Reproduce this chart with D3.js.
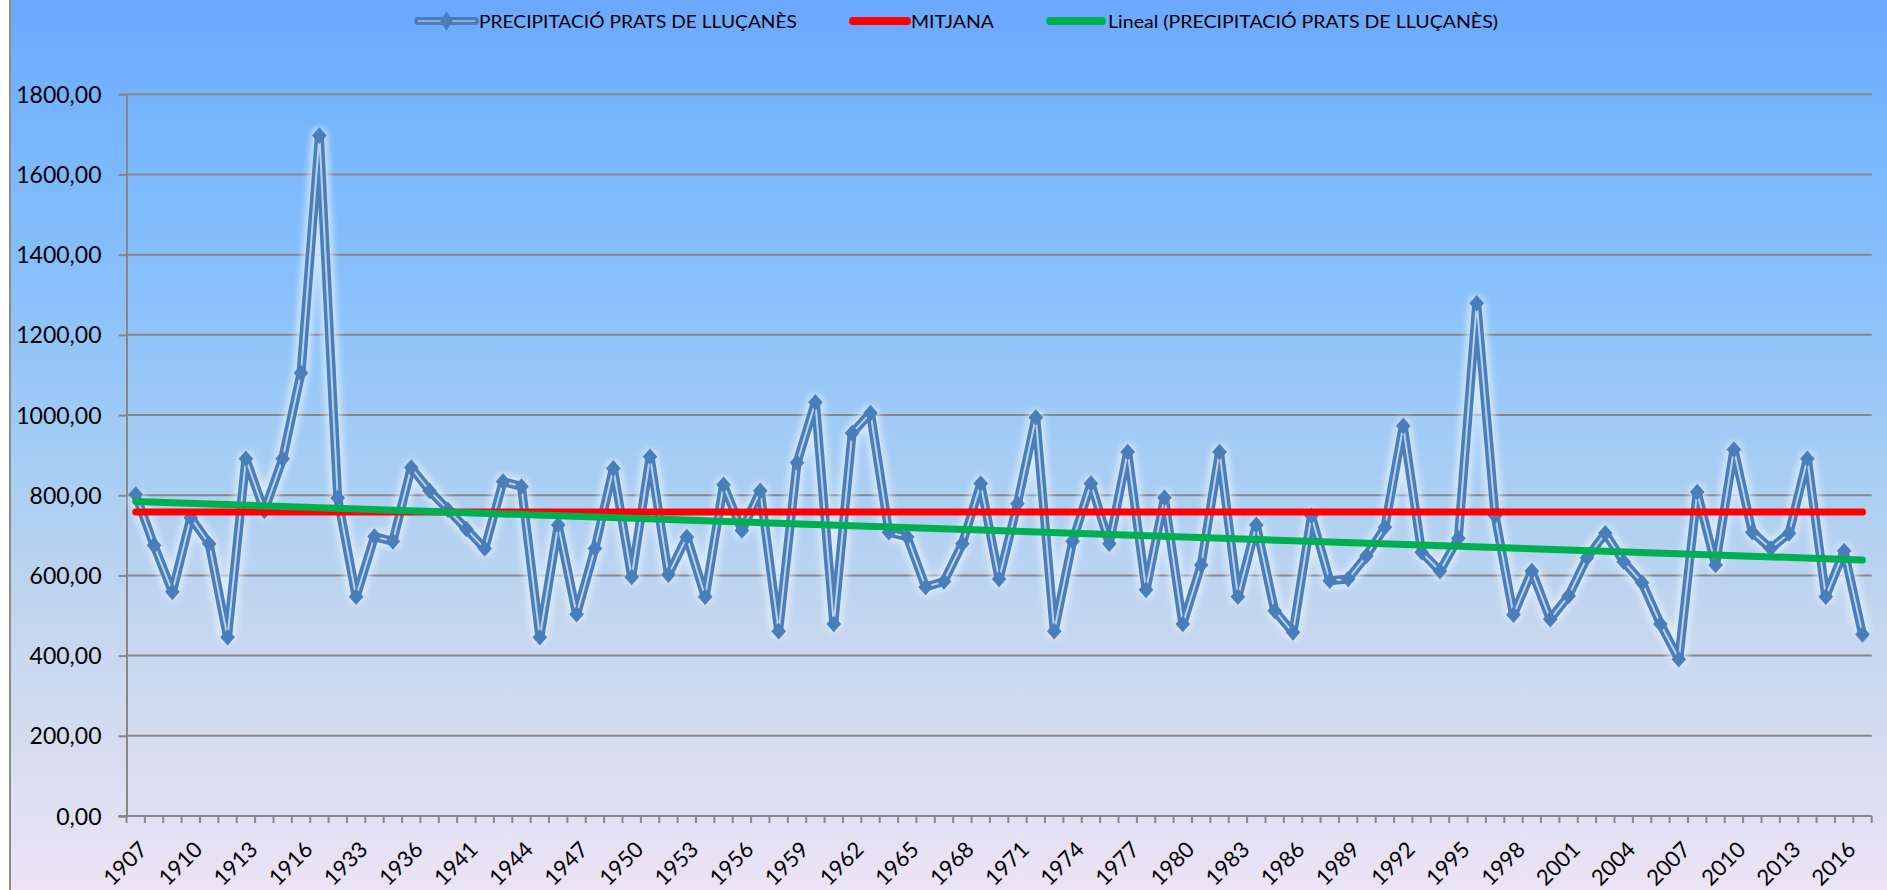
<!DOCTYPE html>
<html>
<head>
<meta charset="utf-8">
<script src="https://cdn.jsdelivr.net/npm/d3@7"></script>
<style>
  html, body { margin: 0; padding: 0; background: #ffffff; }
  svg { display: block; font-family: Lato, "Open Sans", sans-serif; }
</style>
</head>
<body>
<svg id="chart" width="1887" height="890"></svg>
<script>
// ---------------- DATA ----------------
const years = [
  "1907","1908","1909","1910","1911","1912","1913","1914","1915","1916",
  "1917","1918","1933","1934","1935","1936","1939","1940","1941","1942",
  "1943","1944","1945","1946","1947","1948","1949","1950","1951","1952",
  "1953","1954","1955","1956","1957","1958","1959","1960","1961","1962",
  "1963","1964","1965","1966","1967","1968","1969","1970","1971","1972",
  "1973","1974","1975","1976","1977","1978","1979","1980","1981","1982",
  "1983","1984","1985","1986","1987","1988","1989","1990","1991","1992",
  "1993","1994","1995","1996","1997","1998","1999","2000","2001","2002",
  "2003","2004","2005","2006","2007","2008","2009","2010","2011","2012",
  "2013","2014","2015","2016","2017"
];
const precipitacio = [
  802, 675, 559, 744, 679, 446, 891, 761, 891, 1105,
  1697, 793, 547, 697, 685, 869, 811, 764, 716, 667,
  834, 822, 446, 726, 503, 667, 867, 596, 896, 602,
  696, 547, 826, 712, 811, 461, 881, 1032, 479, 955,
  1005, 708, 696, 571, 585, 679, 829, 591, 779, 994,
  461, 685, 829, 679, 908, 564, 794, 479, 626, 908,
  547, 726, 512, 458, 749, 587, 591, 649, 720, 973,
  658, 611, 693, 1279, 749, 502, 611, 491, 549, 644,
  705, 634, 582, 479, 391, 808, 626, 914, 708, 667,
  705, 891, 547, 661, 453
];
const mitjanaValue = 758;
const yTickValues = [0, 200, 400, 600, 800, 1000, 1200, 1400, 1600, 1800];
const labelYears = ["1907","1910","1913","1916","1933","1936","1941","1944","1947","1950",
  "1953","1956","1959","1962","1965","1968","1971","1974","1977","1980","1983","1986",
  "1989","1992","1995","1998","2001","2004","2007","2010","2013","2016"];
const legendNames = ["PRECIPITACIÓ PRATS DE LLUÇANÈS", "MITJANA", "Lineal (PRECIPITACIÓ PRATS DE LLUÇANÈS)"];

// ---------------- SETUP ----------------
const W = 1887, H = 890;
const svg = d3.select("#chart");
const defs = svg.append("defs");

const grad = defs.append("linearGradient").attr("id", "bg").attr("x1", 0).attr("y1", 0).attr("x2", 0).attr("y2", 1);
[["0%", "#6ba8fe"], ["12%", "#76b4fd"], ["30%", "#86bffb"], ["50%", "#a3ccf4"], ["70%", "#c4d6ef"], ["88%", "#dcdef1"], ["100%", "#ece4f5"]]
  .forEach(([o, c]) => grad.append("stop").attr("offset", o).attr("stop-color", c));

const glow = defs.append("filter").attr("id", "glow").attr("x", "-5%").attr("y", "-10%").attr("width", "110%").attr("height", "120%");
glow.append("feGaussianBlur").attr("stdDeviation", 3);

svg.append("rect").attr("x", 10).attr("y", 0).attr("width", W - 10).attr("height", H).attr("fill", "url(#bg)");
svg.append("line").attr("x1", 10).attr("x2", 10).attr("y1", 0).attr("y2", H).attr("stroke", "#8c8c8c").attr("stroke-width", 2);

const plot = { left: 126.5, right: 1871.7, top: 94.3, bottom: 816 };

const x = d3.scaleBand().domain(years).range([plot.left, plot.right]).padding(0);
const cx = d => x(d) + x.bandwidth() / 2;
const y = d3.scaleLinear().domain([0, 1800]).range([plot.bottom, plot.top]);

const locale = d3.formatLocale({ decimal: ",", thousands: "", grouping: [3], currency: ["", ""] });
const fmt = locale.format(".2f");

// ---------------- GRID & AXES ----------------
const gridColor = "#878787";
svg.append("g").selectAll("line").data(yTickValues.filter(v => v > 0)).join("line")
  .attr("x1", plot.left).attr("x2", plot.right)
  .attr("y1", d => y(d)).attr("y2", d => y(d))
  .attr("stroke", gridColor).attr("stroke-width", 2);

const yAxis = svg.append("g").attr("transform", `translate(${plot.left},0)`)
  .call(d3.axisLeft(y).tickValues(yTickValues).tickSize(8).tickPadding(17).tickFormat(fmt));
yAxis.select(".domain").attr("stroke", gridColor).attr("stroke-width", 2);
yAxis.selectAll(".tick line").attr("stroke", gridColor).attr("stroke-width", 2);
yAxis.selectAll("text").attr("fill", "#000").style("font-size", "23px").style("font-family", "Lato, sans-serif").attr("dy", "0.35em");

const xAxis = svg.append("g").attr("transform", `translate(0,${plot.bottom})`)
  .call(d3.axisBottom(x).tickValues([]).tickSize(0));
xAxis.select(".domain").attr("stroke", gridColor).attr("stroke-width", 2).attr("d", `M${plot.left - 8},0H${plot.right}`);
const boundaries = years.map(d => x(d)).concat([plot.right]);
svg.append("g").selectAll("line").data(boundaries).join("line")
  .attr("x1", d => d).attr("x2", d => d)
  .attr("y1", plot.bottom).attr("y2", plot.bottom + 7)
  .attr("stroke", gridColor).attr("stroke-width", 2);

svg.append("g").selectAll("text").data(labelYears).join("text")
  .attr("transform", d => `translate(${cx(d) + 13},${plot.bottom + 35}) rotate(-45)`)
  .attr("text-anchor", "end")
  .style("font-size", "22px")
  .attr("fill", "#000")
  .text(d => d);

// ---------------- SERIES ----------------
const line = d3.line().x((d, i) => cx(years[i])).y(d => y(d));

svg.append("path").datum(precipitacio).attr("d", line)
  .attr("fill", "none").attr("stroke", "#e6f2ff").attr("stroke-width", 16)
  .attr("stroke-linejoin", "round").attr("opacity", 0.75).attr("filter", "url(#glow)");
svg.append("path").datum(precipitacio).attr("d", line)
  .attr("fill", "none").attr("stroke", "#4a7ebb").attr("stroke-width", 9).attr("stroke-linejoin", "round");
svg.append("path").datum(precipitacio).attr("d", line)
  .attr("fill", "none").attr("stroke", "#c8daee").attr("stroke-width", 2).attr("stroke-linejoin", "round").attr("opacity", 0.9);
const diamond = d3.symbol().type(d3.symbolDiamond).size(110);
svg.append("g").selectAll("path").data(precipitacio).join("path")
  .attr("d", diamond)
  .attr("transform", (d, i) => `translate(${cx(years[i])},${y(d)}) scale(1.3,0.85)`)
  .attr("fill", "#4a7ebb");

const mitjana = years.map(() => mitjanaValue);
svg.append("path").datum(mitjana).attr("d", line)
  .attr("fill", "none").attr("stroke", "#ff0000").attr("stroke-width", 7).attr("stroke-linecap", "round");

const n = precipitacio.length;
const xs = d3.range(1, n + 1);
const mx = d3.mean(xs), my = d3.mean(precipitacio);
const slope = d3.sum(xs, (v, i) => (v - mx) * (precipitacio[i] - my)) / d3.sum(xs, v => (v - mx) * (v - mx));
const intercept = my - slope * mx;
const trend = [0, n - 1];
svg.append("path").datum(trend)
  .attr("d", d3.line().x(i => cx(years[i])).y(i => y(intercept + slope * (i + 1))))
  .attr("fill", "none").attr("stroke", "#00b050").attr("stroke-width", 7).attr("stroke-linecap", "round");

// ---------------- LEGEND ----------------
const legend = svg.append("g");
const legendY = 21;
const items = [
  { name: legendNames[0], x0: 418, x1: 475, tx: 479, w: 318 },
  { name: legendNames[1], x0: 853, x1: 907, tx: 911, w: 83 },
  { name: legendNames[2], x0: 1050, x1: 1102, tx: 1108, w: 390 }
];
legend.append("line").attr("x1", items[0].x0).attr("x2", items[0].x1).attr("y1", legendY).attr("y2", legendY)
  .attr("stroke", "#4a7ebb").attr("stroke-width", 8).attr("stroke-linecap", "round");
legend.append("line").attr("x1", items[0].x0).attr("x2", items[0].x1).attr("y1", legendY).attr("y2", legendY)
  .attr("stroke", "#8db0d8").attr("stroke-width", 2);
legend.append("path").attr("d", diamond).attr("transform", `translate(${(items[0].x0 + items[0].x1) / 2},${legendY}) scale(1.1,1)`).attr("fill", "#4a7ebb");
legend.append("line").attr("x1", items[1].x0).attr("x2", items[1].x1).attr("y1", legendY).attr("y2", legendY)
  .attr("stroke", "#ff0000").attr("stroke-width", 8).attr("stroke-linecap", "round");
legend.append("line").attr("x1", items[2].x0).attr("x2", items[2].x1).attr("y1", legendY).attr("y2", legendY)
  .attr("stroke", "#00b050").attr("stroke-width", 8).attr("stroke-linecap", "round");
legend.selectAll("text.lg").data(items).join("text").attr("class", "lg")
  .attr("x", d => d.tx).attr("y", legendY + 6.5)
  .style("font-size", "18px").attr("fill", "#000")
  .attr("textLength", d => d.w).attr("lengthAdjust", "spacingAndGlyphs")
  .text(d => d.name);
</script>
</body>
</html>
